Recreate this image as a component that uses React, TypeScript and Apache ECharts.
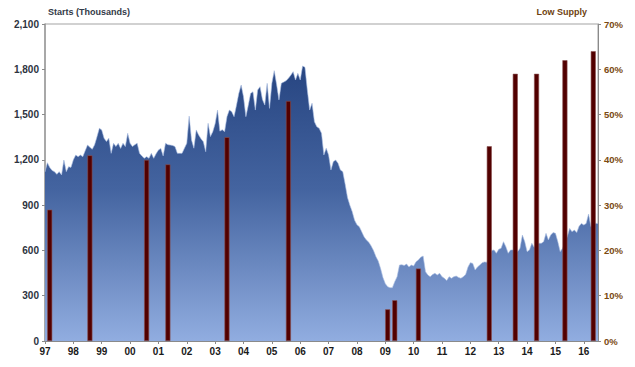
import React, { useEffect, useRef } from "react";
import * as echarts from "echarts";

// Monthly single-family starts (thousands, SAAR), Jan 1997 .. Jul 2016
const startYear = 1997;
const starts: number[] = [
  1120, 1181, 1150, 1130, 1122, 1104, 1122, 1100, 1199, 1122, 1155, 1150,
  1200, 1232, 1221, 1232, 1221, 1260, 1298, 1283, 1270, 1300, 1353, 1409,
  1398, 1343, 1321, 1343, 1243, 1310, 1288, 1310, 1276, 1310, 1288, 1376,
  1310, 1288, 1300, 1310, 1243, 1225, 1210, 1221, 1210, 1243, 1210, 1240,
  1265, 1276, 1226, 1310, 1300, 1298, 1295, 1288, 1243, 1243, 1243, 1277,
  1310, 1490, 1332, 1277, 1398, 1365, 1340, 1320, 1254, 1442, 1354, 1387,
  1440, 1530, 1390, 1400, 1387, 1486, 1530, 1519, 1486, 1560, 1640, 1696,
  1618, 1486, 1560, 1640, 1651, 1530, 1663, 1685, 1600, 1563, 1707, 1541,
  1707, 1791, 1700, 1597, 1707, 1715, 1724, 1740, 1760, 1784, 1729, 1773,
  1729, 1822, 1813, 1663, 1530, 1575, 1453, 1420, 1409, 1376, 1232, 1277,
  1232, 1133, 1188, 1199, 1177, 1133, 1122, 1040, 950, 900, 857, 800,
  770, 757, 724, 690, 669, 655, 630, 600, 560, 530, 480, 420,
  380, 360, 353, 353, 393, 426, 503, 505, 500, 510, 490, 503,
  497, 525, 537, 555, 563, 459, 437, 426, 440, 448, 437, 448,
  426, 415, 400, 426, 415, 426, 430, 421, 415, 426, 440, 490,
  519, 514, 470, 490, 503, 519, 524, 521, 560, 600, 603, 581,
  607, 614, 658, 625, 581, 603, 603, 600, 592, 614, 702, 658,
  592, 603, 647, 620, 640, 647, 647, 658, 713, 669, 702, 718,
  713, 658, 592, 614, 650, 691, 746, 724, 735, 718, 760, 779,
  768, 779, 841, 757, 770, 779, 779,
];

// Low supply (%), month index from Jan 1997
const barMonths: number[] = [2, 19, 43, 52, 77, 103, 145, 148, 158, 188, 199, 208, 220, 232];
const barValues: number[] = [29, 41, 40, 39, 45, 53, 7, 9, 16, 43, 59, 59, 62, 64];

const leftTicks = { min: 0, max: 2100, interval: 300 };
const rightTicks = { min: 0, max: 70, interval: 10 };

const categories: string[] = starts.map((_, i) => {
  const y = startYear + Math.floor(i / 12);
  const m = (i % 12) + 1;
  return `${y}-${m < 10 ? "0" + m : m}`;
});

const barData: (number | string)[] = starts.map(() => "-");
barMonths.forEach((mi, k) => {
  barData[mi] = barValues[k];
});

const yearTick = (index: number) => index % 12 === 0;

export default function App() {
  const ref = useRef<HTMLDivElement>(null);
  useEffect(() => {
    if (!ref.current) return;
    const chart = echarts.init(ref.current, undefined, { renderer: "svg" });
    chart.setOption({
      animation: false,
      backgroundColor: "#ffffff",
      grid: {
        left: 45,
        right: 37,
        top: 24,
        bottom: 26,
        show: true,
        borderColor: "#a3a3a3",
        borderWidth: 1,
        backgroundColor: "transparent",
      },
      graphic: [
        {
          type: "text",
          left: 48,
          top: 7,
          style: {
            text: "Starts (Thousands)",
            font: "bold 9px 'Liberation Sans', Arial, sans-serif",
            fill: "#333a48",
          },
        },
        {
          type: "text",
          right: 48,
          top: 7,
          style: {
            text: "Low Supply",
            font: "bold 9px 'Liberation Sans', Arial, sans-serif",
            fill: "#6e3f10",
          },
        },
      ],
      xAxis: {
        type: "category",
        data: categories,
        boundaryGap: false,
        axisLine: { show: true, lineStyle: { color: "#8a8a8a", width: 1 } },
        axisTick: {
          show: true,
          interval: yearTick,
          length: 3,
          lineStyle: { color: "#8a8a8a" },
        },
        axisLabel: {
          interval: yearTick,
          formatter: (v: string) => v.slice(2, 4),
          color: "#1a1a1a",
          fontWeight: "bold",
          fontSize: 10,
          fontFamily: "'Liberation Sans', Arial, sans-serif",
          margin: 5,
        },
        splitLine: { show: false },
      },
      yAxis: [
        {
          type: "value",
          min: leftTicks.min,
          max: leftTicks.max,
          interval: leftTicks.interval,
          axisLine: { show: true, lineStyle: { color: "#9a9a9a", width: 1.5 } },
          axisTick: { show: true, length: 3, lineStyle: { color: "#8a8a8a" } },
          axisLabel: {
            formatter: (v: number) => v.toLocaleString("en-US"),
            color: "#2d3340",
            fontWeight: "bold",
            fontSize: 10,
            fontFamily: "'Liberation Sans', Arial, sans-serif",
            margin: 6,
          },
          splitLine: { show: false },
        },
        {
          type: "value",
          min: rightTicks.min,
          max: rightTicks.max,
          interval: rightTicks.interval,
          position: "right",
          axisLine: { show: true, lineStyle: { color: "#8a8a8a", width: 1 } },
          axisTick: { show: true, length: 3, lineStyle: { color: "#8a8a8a" } },
          axisLabel: {
            formatter: "{value}%",
            color: "#7a4a12",
            fontWeight: "bold",
            fontSize: 9.5,
            fontFamily: "'Liberation Sans', Arial, sans-serif",
            margin: 6,
          },
          splitLine: { show: false },
        },
      ],
      series: [
        {
          name: "Starts",
          type: "line",
          data: starts,
          yAxisIndex: 0,
          symbol: "none",
          smooth: false,
          lineStyle: { width: 0.6, color: "#a9bde3" },
          areaStyle: {
            opacity: 1,
            color: new echarts.graphic.LinearGradient(0, 0, 0, 1, [
              { offset: 0, color: "#274581" },
              { offset: 0.45, color: "#4464a0" },
              { offset: 1, color: "#91ade0" },
            ]),
          },
          z: 2,
        },
        {
          name: "Low Supply",
          type: "bar",
          data: barData,
          yAxisIndex: 1,
          barWidth: 5,
          itemStyle: {
            color: "#520000",
            borderColor: "#8a5050",
            borderWidth: 0.6,
          },
          z: 3,
        },
      ],
    });
    return () => chart.dispose();
  }, []);
  return (
    <div
      ref={ref}
      style={{ position: "fixed", left: 0, top: 0, width: 635, height: 367 }}
    />
  );
}
